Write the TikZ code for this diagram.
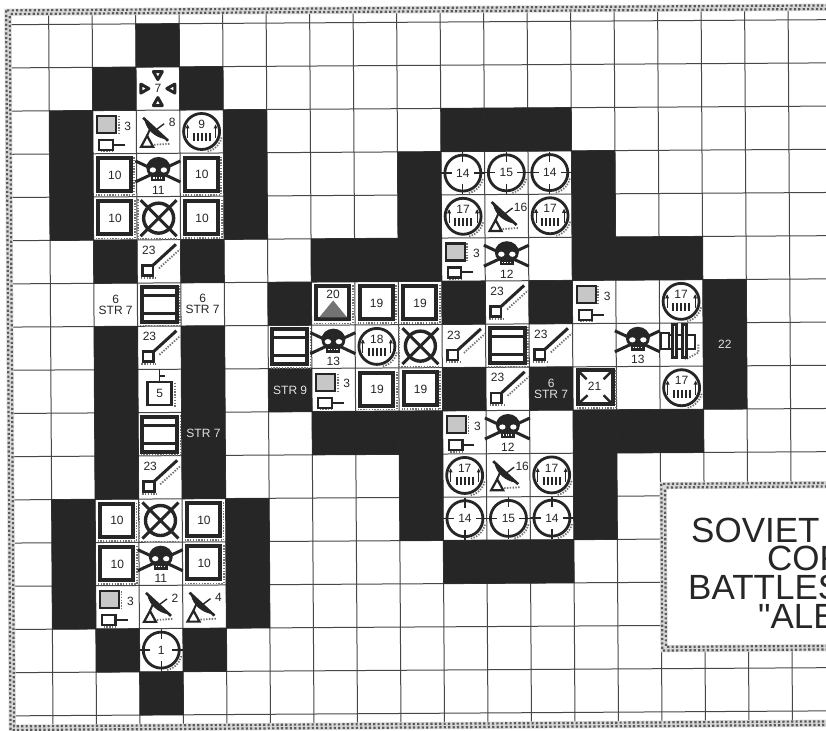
\documentclass[tikz,border=0pt]{standalone}
\usepackage{fontspec}
\setmainfont{Liberation Sans}
\newfontfamily\titlefont{Liberation Sans}
\definecolor{ink}{HTML}{262626}
\definecolor{bandlight}{HTML}{D8D8D8}
\definecolor{bandink}{HTML}{5A5A5A}
\tikzset{
  x=1pt,y=-1pt,
  grid line/.style={draw=ink!85,line width=1},
  blackcell/.style={fill=ink,draw=ink,line width=0.4},
  shd/.style={draw=black!55,line width=1.8,dash pattern=on 1.4pt off 1.4pt},
  thick box/.style={draw=ink,line width=4,fill=white},
  num/.style={font=\fontsize{12}{12}\selectfont,text=ink,inner sep=0pt,outer sep=0pt,align=center},
  numw/.style={num,text=white!88!black},
  title/.style={font=\titlefont\fontsize{35}{35}\selectfont,text=ink,inner sep=0pt,anchor=base west},
  pics/hqpic/.style={code={
    \draw[shd] (4,-16) -- (4,2);
    \draw[draw=ink,line width=2.2,fill=black!22] (-17.5,-16) rectangle (1.5,1);
    \draw[shd] (-14,19.5) -- (-1,19.5);
    \draw[draw=ink,line width=2.2,fill=white] (-15.5,8) rectangle (-2,18);
    \draw[ink,line width=2] (-2,13) -- (10,13);
    \node[num] (n) at (13,-6) {#1};
  }},
  pics/radarpic/.style={code={
    \draw[ink,line width=2.2,fill=white] (-11,4) -- (-17,15) -- (-5,15) -- cycle;
    \draw[ink,line width=2] (-11,4) -- (-8,-3);
    \draw[ink,line width=2.6] (-15,-14) -- (10,9);
    \draw[ink,fill=ink,line width=0.8] (-13,-11) .. controls (-11,-2) and (-3,5) .. (7,7) -- cycle;
    \draw[ink,line width=1.4] (-2,-2) -- (6,-8);
    \draw[shd] (-4,13) -- (12,12);
    \node[num] (n) at (14,-9) {#1};
  }},
  pics/skullpic/.style={code={
    \draw[ink,line width=3] (-23,-14) -- (22,7) (22,-14) -- (-23,7);
    \fill[ink] (0,-7) ellipse [x radius=12,y radius=11];
    \fill[ink] (-7,-2) rectangle (7,6);
    \fill[white] (-5.5,-5) ellipse [x radius=3.2,y radius=2.6];
    \fill[white] (5.5,-5) ellipse [x radius=3.2,y radius=2.6];
    \draw[white,line width=1.2,dash pattern=on 1.3pt off 1.3pt] (-5,3) -- (5,3);
    \node[num] (n) at (0,15) {#1};
  }},
  pics/xcircle/.style={code={
    \draw[shd] (-21,-19) -- (-21,21) -- (20,21);
    \draw[ink,line width=3.4] (0,0) circle [radius=15];
    \draw[ink,line width=3] (-18,-18) -- (18,18) (18,-18) -- (-18,18);
  }},
  pics/numbox/.style={code={
    \draw[shd] (19.5,-18) -- (19.5,20) -- (-19,20);
    \draw[thick box] (-17,-17) rectangle (16,16);
    \node[num] (n) at (0,0) {#1};
  }},
  pics/tripic/.style={code={
    \draw[shd] (19.5,-18) -- (19.5,20) -- (-19,20);
    \draw[thick box] (-17,-17) rectangle (16,16);
    \fill[black!55] (-14,14) -- (0,-3) -- (14,14) -- cycle;
    \node[num] (n) at (0,-9) {#1};
  }},
  pics/ringpic/.style={code={
    \draw[shd] (20,6) to[bend left=30] (6,20);
    \draw[ink,line width=2.8,fill=white] (0,0) circle [radius=18];
    \node[num] (n) at (0,-7) {#1};
    \foreach \t in {-8,-4,0,4,8}{\draw[ink,line width=1.8] (\t,2) -- (\t,10);}
    \foreach \t in {-14,14}{\draw[ink,line width=1.1] (\t,-6) -- (\t,7);
      \fill[ink] (\t-2,-3) -- (\t,-7) -- (\t+2,-3) -- cycle;}
  }},
  pics/reticle/.style={code={
    \draw[shd] (20,6) to[bend left=30] (6,20);
    \draw[ink,line width=2.8,fill=white] (0,0) circle [radius=18];
    \draw[ink,line width=1.3] (0,-21) -- (0,-11) (0,11) -- (0,21) (-22,0) -- (-11,0) (11,0) -- (22,0);
    \node[num] (n) at (0,0) {#1};
  }},
  pics/gunpic/.style={code={
    \draw[shd] (-18,16.5) -- (-3,16.5);
    \draw[shd] (0,7) -- (21,-12);
    \draw[ink,line width=2.6,fill=white] (-16.5,4) rectangle (-6,14);
    \draw[ink,line width=3] (-6,4) -- (17,-17);
    \node[num] (n) at (-10,-11) {#1};
  }},
  pics/strbox/.style={code={
    \draw[shd] (20.5,-19) -- (20.5,21) -- (-19,21);
    \draw[thick box] (-17.5,-17.5) rectangle (17.5,17.5);
    \draw[ink,line width=3] (-17,-9) -- (17,-9) (-17,9) -- (17,9);
  }},
  pics/fivebox/.style={code={
    \draw[shd] (15,-8) -- (15,17);
    \draw[ink,line width=1.3] (0,-22) -- (0,-9) (0,-15) -- (5,-15);
    \draw[draw=ink,line width=2.6,fill=white] (-12,-9) rectangle (12,14);
    \node[num] (n) at (0,3) {#1};
  }},
  pics/radpic/.style={code={
    \foreach \a in {0,90,180,270}{
      \begin{scope}[rotate=\a]
        \draw[ink,fill=white,line width=3,line join=round] (-4.5,-17) -- (4.5,-17) -- (0,-9) -- cycle;
      \end{scope}
    }
    \node[num] (n) at (0,0) {#1};
  }},
  pics/cross21/.style={code={
    \draw[shd] (21,-18) -- (21,20) -- (-18,20);
    \draw[thick box] (-17,-18) rectangle (18,16);
    \draw[ink,line width=2.4] (-17,-18) -- (-8,-9) (18,-18) -- (9,-9) (-17,16) -- (-7,7) (18,16) -- (9,7);
    \node[num] (n) at (0,-2) {#1};
  }},
  pics/tankpic/.style={code={
    \draw[shd] (17,0) -- (17,8) -- (4,15);
    \draw[ink,line width=2,fill=white] (-20,-12) rectangle (-12,4);
    \draw[ink,line width=2,fill=white] (-12,-10) rectangle (14,4);
    \draw[ink,line width=2.6,fill=white] (-9,-20) rectangle (-5,13);
    \draw[ink,line width=2.6,fill=white] (1,-20) rectangle (5,13);
  }},
}
\newcommand{\hatchband}[4]{%
  \draw[bandlight,line width=7.2] (#1,#2) rectangle (#3,#4);
  \draw[bandink,line width=2.2,dash pattern=on 2.2pt off 2.2pt] (#1-1.8,#2-1.8) rectangle (#3+1.8,#4+1.8);
  \draw[bandink,line width=2.2,dash pattern=on 2.2pt off 2.2pt,dash phase=2.2pt] (#1+1.8,#2+1.8) rectangle (#3-1.8,#4-1.8);
}
\begin{document}
\begin{tikzpicture}
\useasboundingbox (0,0) rectangle (826,730);
\clip (0,0) rectangle (826,730);
\fill[white] (0,0) rectangle (826,730);
\begin{scope}[rotate around={0.35:(120,300)}]
  % coordinates of all cell centres
  \foreach \c in {0,...,18}{\foreach \r in {0,...,15}{
    \coordinate (c\c-\r) at ({6.9+43.5*\c+21.75},{24+43.2*\r+21.6});
  }}
  % outer frame and grid
  \foreach \k in {1,...,19}{\draw[grid line] ({6.9+43.5*\k},10) -- ++(0,716);}
  \foreach \k in {0,...,16}{\draw[grid line] (8,{24+43.2*\k}) -- (860,{24+43.2*\k});}
  \hatchband{9.7}{11.5}{870}{727.5}
  % black cells
  \foreach \c/\r in {3/0,2/1,4/1,
    1/2,5/2,1/3,5/3,1/4,5/4,2/5,4/5,
    2/7,4/7,2/8,4/8,2/9,4/9,2/10,4/10,
    1/11,5/11,1/12,5/12,1/13,5/13,2/14,4/14,3/15,
    10/2,11/2,12/2,9/3,13/3,9/4,13/4,
    7/5,8/5,9/5,13/5,14/5,15/5,
    6/6,10/6,12/6,16/6,16/7,6/8,10/8,12/8,16/8,
    7/9,8/9,9/9,13/9,14/9,15/9,
    9/10,13/10,9/11,13/11,10/12,11/12,12/12}{
    \fill[blackcell] ({6.9+43.5*\c},{24+43.2*\r}) rectangle ++(43.5,43.2);
  }
  % left column of units
  \pic at (c3-1) {radpic=7};
  \pic at (c2-2) {hqpic=3};
  \pic at (c3-2) {radarpic=8};
  \pic at (c4-2) {ringpic=9};
  \pic at (c2-3) {numbox=10};
  \pic at (c3-3) {skullpic=11};
  \pic at (c4-3) {numbox=10};
  \pic at (c2-4) {numbox=10};
  \pic at (c3-4) {xcircle};
  \pic at (c4-4) {numbox=10};
  \pic at (c3-5) {gunpic=23};
  \pic at (c3-6) {strbox};
  \pic at (c3-7) {gunpic=23};
  \pic at (c3-8) {fivebox=5};
  \pic at (c3-9) {strbox};
  \pic at (c3-10) {gunpic=23};
  \pic at (c2-11) {numbox=10};
  \pic at (c3-11) {xcircle};
  \pic at (c4-11) {numbox=10};
  \pic at (c2-12) {numbox=10};
  \pic at (c3-12) {skullpic=11};
  \pic at (c4-12) {numbox=10};
  \pic at (c2-13) {hqpic=3};
  \pic at (c3-13) {radarpic=2};
  \pic at (c4-13) {radarpic=4};
  \pic at (c3-14) {reticle=1};
  % centre group
  \pic at (c7-6) {tripic=20};
  \pic at (c8-6) {numbox=19};
  \pic at (c9-6) {numbox=19};
  \pic at (c6-7) {strbox};
  \pic at (c7-7) {skullpic=13};
  \pic at (c8-7) {ringpic=18};
  \pic at (c9-7) {xcircle};
  \pic at (c7-8) {hqpic=3};
  \pic at (c8-8) {numbox=19};
  \pic at (c9-8) {numbox=19};
  \pic at (c10-7) {gunpic=23};
  \pic at (c11-6) {gunpic=23};
  \pic at (c11-7) {strbox};
  \pic at (c11-8) {gunpic=23};
  \pic at (c12-7) {gunpic=23};
  % top block
  \pic at (c10-3) {reticle=14};
  \pic at (c11-3) {reticle=15};
  \pic at (c12-3) {reticle=14};
  \pic at (c10-4) {ringpic=17};
  \pic at (c11-4) {radarpic=16};
  \pic at (c12-4) {ringpic=17};
  \pic at (c10-5) {hqpic=3};
  \pic at (c11-5) {skullpic=12};
  % bottom block
  \pic at (c10-9) {hqpic=3};
  \pic at (c11-9) {skullpic=12};
  \pic at (c10-10) {ringpic=17};
  \pic at (c11-10) {radarpic=16};
  \pic at (c12-10) {ringpic=17};
  \pic at (c10-11) {reticle=14};
  \pic at (c11-11) {reticle=15};
  \pic at (c12-11) {reticle=14};
  % right group
  \pic at (c13-6) {hqpic=3};
  \pic at (c15-6) {ringpic=17};
  \pic at (c14-7) {skullpic=13};
  \pic at (c15-7) {tankpic};
  \pic at (c13-8) {cross21=21};
  \pic at (c15-8) {ringpic=17};
  % strength labels
  \node[num] (la) at (c2-6) {6\\[-1pt]STR 7};
  \node[num] (lb) at (c4-6) {6\\[-1pt]STR 7};
  \node[numw] (lc) at (c4-9) {STR 7};
  \node[numw] (ld) at (c6-8) {STR 9};
  \node[numw] (le) at (c12-8) {6\\[-1pt]STR 7};
  \node[numw] (lf) at (c16-7) {22};
  % title box
  \fill[white] (662,489) rectangle (870,652);
  \hatchband{662}{489}{870}{652}
\end{scope}
\node[title] (t1) at (691,542) {SOVIET};
\node[title] (t2) at (767,570.5) {COR};
\node[title] (t3) at (688,599.5) {BATTLES};
\node[title] (t4) at (758,628) {"ALE};
\end{tikzpicture}
\end{document}
